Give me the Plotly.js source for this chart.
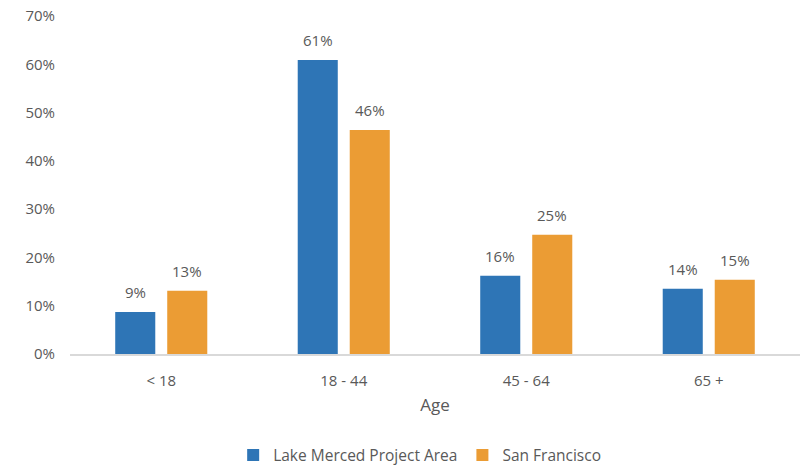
<!DOCTYPE html>
<html><head><meta charset="utf-8">
<script src="https://cdn.plot.ly/plotly-3.0.1.min.js"></script>
<style>html,body{margin:0;padding:0;background:#fff}</style>
</head><body><div id="chart" style="width:803px;height:468px"></div>
<script>
const categories = ['< 18', '18 - 44', '45 - 64', '65 +'];
const lakeMerced = [0.087, 0.609, 0.162, 0.135];
const sanFrancisco = [0.131, 0.464, 0.247, 0.154];
const seriesNames = ['Lake Merced Project Area', 'San Francisco'];
const yTicks = [0, 0.1, 0.2, 0.3, 0.4, 0.5, 0.6, 0.7];

const fam = 'Open Sans, Noto Sans, sans-serif';
const gray = '#595959';
const font = {family: fam, size: 15, color: gray};
const colors = ['#2E75B6', '#EB9C34'];
const series = [lakeMerced, sanFrancisco];

const traces = series.map((vals, i) => ({
  type: 'bar', x: categories, y: vals, name: seriesNames[i],
  marker: {color: colors[i]}, hoverinfo: 'skip'
}));

const annotations = [];
series.forEach((vals, i) => {
  vals.forEach((v, j) => {
    annotations.push({
      x: categories[j], y: v, xref: 'x', yref: 'y',
      text: Math.round(v * 100) + '%', showarrow: false,
      yanchor: 'bottom', xanchor: 'center',
      xshift: i === 0 ? -26 : 26, yshift: 8,
      font: font
    });
  });
});

const layout = {
  width: 803, height: 468,
  margin: {l: 70, r: 3, t: 16, b: 114, autoexpand: false},
  paper_bgcolor: '#fff', plot_bgcolor: '#fff',
  font: font,
  barmode: 'group', bargap: 0.43, bargroupgap: 0.23,
  annotations: annotations,
  xaxis: {title: {text: 'Age', font: {family: fam, size: 17, color: gray}, standoff: 10},
          showline: true, linecolor: '#D9D9D9', linewidth: 1.5, ticks: '', tickfont: font,
          showgrid: false, ticklabelstandoff: 12},
  yaxis: {range: [0, 0.7], tickvals: yTicks, tickformat: '.0%', showgrid: false, zeroline: false,
          showline: false, tickfont: font, ticks: '', ticklabelstandoff: 14},
  legend: {orientation: 'h', x: 0.479, xanchor: 'center', y: -0.25, yanchor: 'top',
           font: {family: fam, size: 15.5, color: gray}, traceorder: 'normal'}
};
Plotly.newPlot('chart', traces, layout, {displayModeBar: false, staticPlot: true});
</script></body></html>
